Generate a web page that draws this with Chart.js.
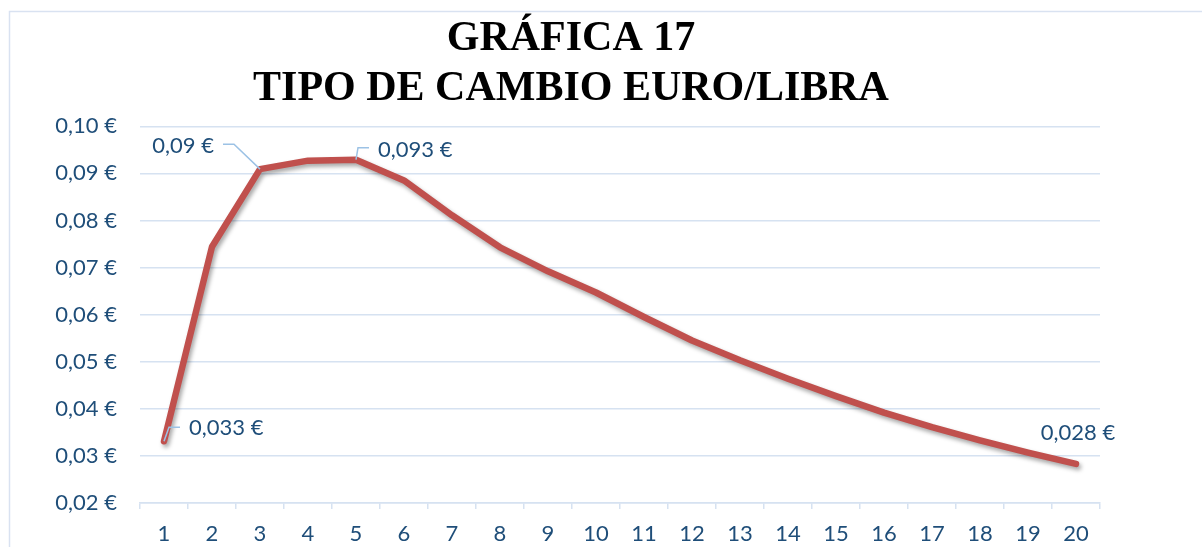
<!DOCTYPE html>
<html>
<head>
<meta charset="utf-8">
<title>Gráfica 17</title>
<script src="https://cdn.jsdelivr.net/npm/chart.js@4.4.1/dist/chart.umd.min.js"></script>
<style>
    html, body { margin: 0; padding: 0; background: #ffffff; }
    canvas { display: block; }
</style>
</head>
<body>
<canvas id="chart" width="1202" height="547"></canvas>
<script>
// datos de la gráfica
const periods = ['1', '2', '3', '4', '5', '6', '7', '8', '9', '10',
                 '11', '12', '13', '14', '15', '16', '17', '18', '19', '20'];
const rates = [0.0331, 0.0744, 0.0909, 0.0927, 0.0929, 0.0885, 0.0811, 0.0743, 0.0692, 0.0647,
               0.0595, 0.0545, 0.0503, 0.0464, 0.0427, 0.0392, 0.0361, 0.0333, 0.0307, 0.0283];
const pointLabels = ['0,033 €', null, '0,09 €', null, '0,093 €', null, null, null, null, null,
                     null, null, null, null, null, null, null, null, null, '0,028 €'];
const titleLines = ['GRÁFICA 17', 'TIPO DE CAMBIO EURO/LIBRA'];

const blueText = '#1f4e79';
const gridColor = '#d6e2f1';
const leaderColor = '#9cc2e5';

// marco exterior del gráfico
const framePlugin = {
    id: 'frame',
    beforeDraw(chart) {
        const ctx = chart.ctx;
        ctx.save();
        ctx.strokeStyle = '#d9e2f1';
        ctx.lineWidth = 1.5;
        ctx.beginPath();
        ctx.moveTo(9.5, chart.height);
        ctx.lineTo(9.5, 11.5);
        ctx.lineTo(chart.width, 11.5);
        ctx.stroke();
        ctx.restore();
    }
};

// sombra de la línea
const shadowPlugin = {
    id: 'lineShadow',
    beforeDatasetDraw(chart) {
        const ctx = chart.ctx;
        ctx.save();
        ctx.shadowColor = 'rgba(0, 0, 0, 0.35)';
        ctx.shadowBlur = 4;
        ctx.shadowOffsetX = 2;
        ctx.shadowOffsetY = 3;
    },
    afterDatasetDraw(chart) {
        chart.ctx.restore();
    }
};

// etiquetas de datos con líneas guía
const labelPlacement = {
    0: { dx: 25, dy: -13, align: 'left', leader: [[5, -14], [16, -14]] },
    2: { dx: -46, dy: -23, align: 'right', leader: [[-26, -25], [-37, -25]] },
    4: { dx: 22, dy: -10, align: 'left', leader: [[2, -12], [13, -12]] },
    19: { dx: 2, dy: -31, align: 'center', leader: null }
};

const dataLabelPlugin = {
    id: 'dataLabels',
    afterDatasetsDraw(chart) {
        const ctx = chart.ctx;
        const meta = chart.getDatasetMeta(0);
        ctx.save();
        pointLabels.forEach((text, i) => {
            if (!text) return;
            const p = meta.data[i];
            const place = labelPlacement[i];
            if (place.leader) {
                ctx.strokeStyle = leaderColor;
                ctx.lineWidth = 1.5;
                ctx.beginPath();
                ctx.moveTo(p.x, p.y);
                place.leader.forEach(pt => ctx.lineTo(p.x + pt[0], p.y + pt[1]));
                ctx.stroke();
            }
            ctx.fillStyle = blueText;
            ctx.font = '22px Lato';
            ctx.textAlign = place.align;
            ctx.textBaseline = 'middle';
            ctx.fillText(text, p.x + place.dx, p.y + place.dy);
        });
        ctx.restore();
    }
};

const ctx = document.getElementById('chart').getContext('2d');
new Chart(ctx, {
    type: 'line',
    data: {
        labels: periods,
        datasets: [{
            data: rates,
            borderColor: '#c0504d',
            borderWidth: 6.5,
            borderCapStyle: 'round',
            borderJoinStyle: 'round',
            pointRadius: 0,
            tension: 0,
            fill: false
        }]
    },
    options: {
        responsive: false,
        animation: false,
        layout: {
            padding: { left: 42, right: 102, top: 0, bottom: 0 }
        },
        plugins: {
            legend: { display: false },
            tooltip: { enabled: false },
            title: {
                display: true,
                text: titleLines,
                color: '#000000',
                font: { family: 'Liberation Serif', size: 42, weight: 'bold', lineHeight: 1.17 },
                padding: { top: 15, bottom: 13 }
            }
        },
        scales: {
            x: {
                offset: true,
                grid: {
                    offset: true,
                    drawOnChartArea: false,
                    drawTicks: true,
                    tickLength: 6,
                    color: gridColor,
                    lineWidth: 1.5
                },
                border: { color: gridColor, width: 1.5 },
                ticks: {
                    color: blueText,
                    font: { family: 'Lato', size: 22 },
                    padding: 12,
                    maxRotation: 0,
                    autoSkip: false
                },
                afterFit(scale) { scale.height = 44; }
            },
            y: {
                min: 0.02,
                max: 0.10,
                grid: {
                    color: gridColor,
                    lineWidth: 1.5,
                    drawTicks: false
                },
                border: { display: false },
                ticks: {
                    stepSize: 0.01,
                    color: blueText,
                    font: { family: 'Lato', size: 22 },
                    padding: 23,
                    callback: function (value) {
                        return value.toFixed(2).replace('.', ',') + ' €';
                    }
                },
                afterFit(scale) { scale.width = 98; }
            }
        }
    },
    plugins: [framePlugin, shadowPlugin, dataLabelPlugin]
});
</script>
</body>
</html>
